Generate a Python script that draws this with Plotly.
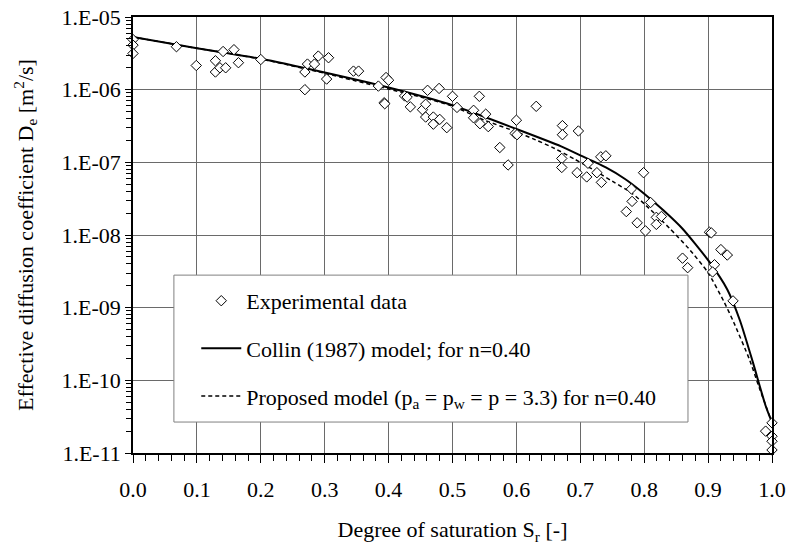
import plotly.graph_objects as go

# ---- data ----
exp_sr = [0.0, 0.0, 0.0, 0.068, 0.099, 0.129, 0.129, 0.136, 0.141, 0.145, 0.158, 0.165,
          0.200, 0.269, 0.269, 0.273, 0.284, 0.290, 0.303, 0.306, 0.345, 0.353, 0.384,
          0.393, 0.394, 0.396, 0.400, 0.425, 0.429, 0.434, 0.453, 0.458, 0.461, 0.458,
          0.470, 0.470, 0.479, 0.480, 0.491, 0.500, 0.507, 0.533, 0.533, 0.542, 0.543,
          0.552, 0.556, 0.574, 0.587, 0.600, 0.598, 0.601, 0.631, 0.672, 0.672, 0.697,
          0.671, 0.671, 0.695, 0.710, 0.712, 0.726, 0.732, 0.740, 0.733, 0.780, 0.781,
          0.772, 0.799, 0.810, 0.819, 0.827, 0.819, 0.789, 0.802, 0.860, 0.868, 0.902,
          0.905, 0.920, 0.930, 0.910, 0.907, 0.939, 1.0, 0.990, 1.0, 1.0, 1.0]
exp_de = [4.9e-6, 4.1e-6, 3.15e-6, 3.9e-6, 2.15e-6, 2.5e-6, 1.75e-6, 2.0e-6, 3.35e-6, 2.0e-6,
          3.55e-6, 2.35e-6, 2.6e-6, 1.75e-6, 1.0e-6, 2.25e-6, 2.25e-6, 2.9e-6, 1.4e-6,
          2.75e-6, 1.8e-6, 1.8e-6, 1.12e-6, 6.6e-7, 6.4e-7, 1.47e-6, 1.35e-6, 8.2e-7,
          7.9e-7, 5.8e-7, 5.3e-7, 6.3e-7, 9.8e-7, 4.2e-7, 4.2e-7, 3.35e-7, 1.04e-6,
          3.9e-7, 3.0e-7, 8.1e-7, 5.7e-7, 5.2e-7, 4.1e-7, 8.1e-7, 3.4e-7, 4.6e-7, 3.1e-7,
          1.6e-7, 9.2e-8, 3.8e-7, 2.5e-7, 2.4e-7, 5.9e-7, 3.2e-7, 2.4e-7, 2.7e-7, 1.13e-7,
          8.5e-8, 7.2e-8, 6.3e-8, 9.7e-8, 7.2e-8, 1.19e-7, 1.23e-7, 5.3e-8, 4.3e-8, 2.9e-8,
          2.1e-8, 7.2e-8, 2.8e-8, 1.75e-8, 1.8e-8, 1.4e-8, 1.47e-8, 1.14e-8, 4.8e-9,
          3.55e-9, 1.09e-8, 1.07e-8, 6.3e-9, 5.3e-9, 3.9e-9, 3.1e-9, 1.24e-9, 2.6e-11,
          2.0e-11, 1.7e-11, 1.45e-11, 1.1e-11]

collin_sr = [0.0, 0.1, 0.2, 0.3, 0.4, 0.5, 0.6, 0.67, 0.7, 0.74, 0.77, 0.8, 0.83, 0.86,
             0.9, 0.93, 0.95, 0.97, 0.99, 1.0]
collin_de = [5.31e-6, 3.72e-6, 2.66e-6, 1.72e-6, 1.07e-6, 6.11e-7, 2.88e-7, 1.66e-7,
             1.25e-7, 8.51e-8, 5.9e-8, 3.7e-8, 2.19e-8, 1.22e-8, 4.5e-9, 1.78e-9,
             6.61e-10, 1.78e-10, 4.47e-11, 2.63e-11]

prop_sr = [0.0, 0.1, 0.2, 0.3, 0.4, 0.45, 0.5, 0.55, 0.6, 0.63, 0.66, 0.69, 0.72, 0.75,
           0.78, 0.8, 0.84, 0.87, 0.9, 0.925, 0.94, 0.965, 0.98, 1.0]
prop_de = [5.31e-6, 3.72e-6, 2.64e-6, 1.68e-6, 1.02e-6, 7.94e-7, 5.93e-7, 3.80e-7,
           2.63e-7, 2.04e-7, 1.55e-7, 1.12e-7, 7.94e-8, 5.50e-8, 3.80e-8, 2.69e-8,
           1.23e-8, 6.46e-9, 3.02e-9, 1.20e-9, 6.31e-10, 1.91e-10, 7.94e-11, 2.63e-11]

y_tickvals = [1e-11, 1e-10, 1e-9, 1e-8, 1e-7, 1e-6, 1e-5]
y_ticktext = ["1.E-11", "1.E-10", "1.E-09", "1.E-08", "1.E-07", "1.E-06", "1.E-05"]

FONT = "Liberation Serif"
FS = 22
GRID = "#6a6a6a"

fig = go.Figure()

fig.add_trace(go.Scatter(
    x=collin_sr, y=collin_de, mode="lines", name="Collin (1987) model; for n=0.40",
    line=dict(color="black", width=2, shape="spline", smoothing=0.6),
    legendgroup="b", legendrank=2))
fig.add_trace(go.Scatter(
    x=prop_sr, y=prop_de, mode="lines",
    name="Proposed model (p<sub>a</sub> = p<sub>w</sub> = p = 3.3) for n=0.40",
    line=dict(color="black", width=1.5, dash="4px,3px", shape="spline", smoothing=0.6),
    legendgroup="c", legendrank=3))
fig.add_trace(go.Scatter(
    x=exp_sr, y=exp_de, mode="markers", name="Experimental data",
    marker=dict(symbol="diamond", size=8, color="white", line=dict(color="black", width=1)),
    cliponaxis=False, legendgroup="a", legendrank=1))

minor_y = [m * 10.0 ** e for e in range(-11, -5) for m in range(2, 10)]

fig.update_layout(
    width=790, height=545,
    margin=dict(l=133, r=18, t=17, b=92, autoexpand=False),
    paper_bgcolor="white", plot_bgcolor="white",
    font=dict(family=FONT, size=FS, color="black"),
    showlegend=True,
    legend=dict(x=0.099, y=0.397, xanchor="left", yanchor="top",
                bgcolor="rgba(0,0,0,0)", borderwidth=0,
                itemwidth=40, tracegroupgap=16,
                font=dict(family=FONT, size=FS, color="black")),
    shapes=[dict(type="rect", xref="paper", yref="paper",
                 x0=0.064, x1=0.8685, y0=0.071, y1=0.408,
                 fillcolor="white", line=dict(color="#808080", width=1), layer="above")],
)

fig.update_xaxes(
    range=[0, 1], dtick=0.1, tick0=0, tickformat=".1f",
    showgrid=True, gridcolor=GRID, gridwidth=1,
    showline=True, linecolor="black", linewidth=1.5, mirror=True,
    ticks="outside", ticklen=8, tickcolor="black", ticklabelstandoff=8,
    minor=dict(dtick=0.02, ticks="outside", ticklen=6, tickcolor="black", showgrid=False),
    zeroline=False, automargin=False,
    title=dict(text="Degree of saturation S<sub>r</sub> [-]", standoff=34,
               font=dict(family=FONT, size=FS)),
)
fig.update_yaxes(
    type="log", range=[-11, -5], tickmode="array",
    tickvals=y_tickvals, ticktext=y_ticktext,
    showgrid=True, gridcolor=GRID, gridwidth=1,
    showline=True, linecolor="black", linewidth=1.5, mirror=True,
    ticks="outside", ticklen=6, tickcolor="black",
    minor=dict(tickvals=minor_y, ticks="outside", ticklen=5, tickcolor="black", showgrid=False),
    zeroline=False, automargin=False,
    title=dict(text="Effective diffusion coefficient D<sub>e</sub> [m<sup>2</sup>/s]",
               standoff=22, font=dict(family=FONT, size=FS)),
)

fig.write_html("out.html")
